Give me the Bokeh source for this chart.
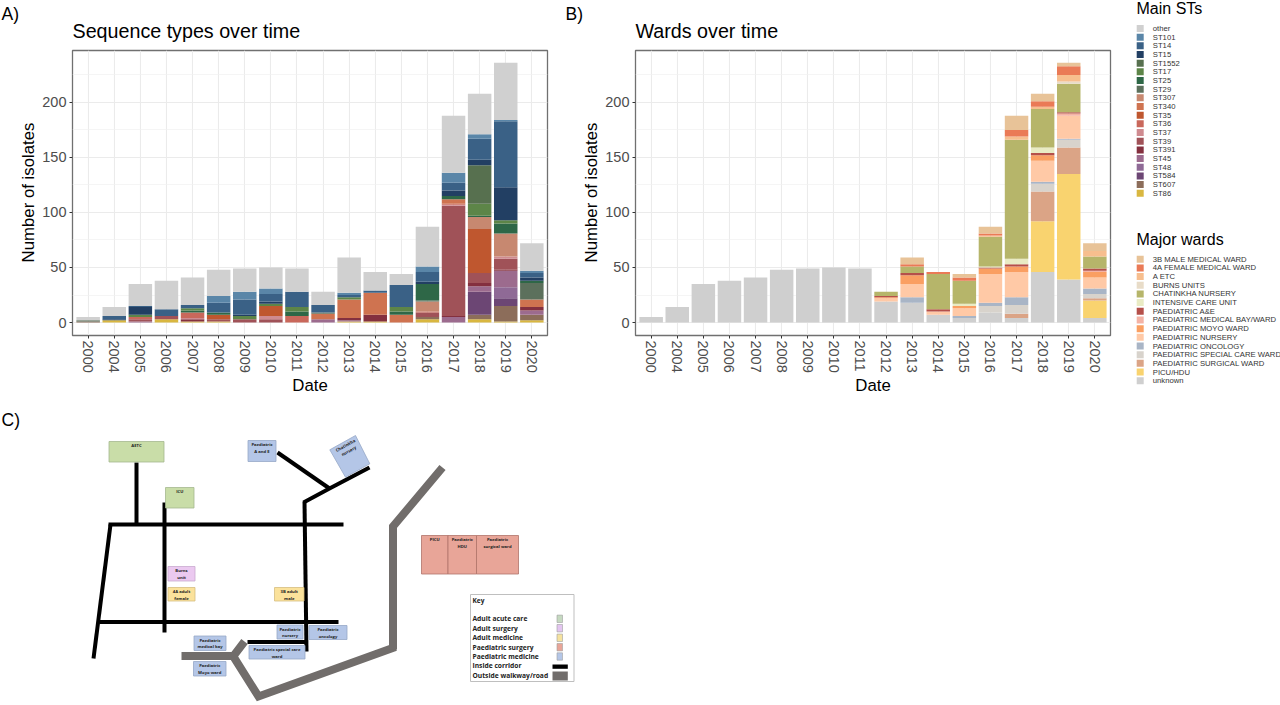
import math
from bokeh.embed import file_html
from bokeh.resources import INLINE
from bokeh.plotting import figure
from bokeh.layouts import column, row
from bokeh.models import ColumnDataSource, FactorRange, Range1d, FixedTicker

# ---------- data ----------
years = ["2000","2004","2005","2006","2007","2008","2009","2010","2011","2012","2013","2014","2015","2016","2017","2018","2019","2020"]

st_names = ["other","ST101","ST14","ST15","ST1552","ST17","ST25","ST29","ST307","ST340","ST35","ST36","ST37","ST39","ST391","ST45","ST48","ST584","ST607","ST86"]
st_colors = ["#D0D0D0","#5A86A8","#3A6186","#223F63","#57704F","#5D8548","#2E6747","#5C705C","#C78870","#CF7350","#BF572F","#C9685B","#CF8B90","#A05258","#84303F","#9C6B8E","#8F6A96","#6C4674","#8C6D5A","#D9B740"]
other  = [3,8,20,26,25,24,21,19,21,12,32,17,10,36,52,37,52,25]
st101  = [0,0,0,0,0,6,7,5,0,0,2,0,0,5,9,4,1,2]
st14   = [0,3,1,6,3,9,14,7,14,7,2,2,20,9,7,19,60,4]
st15   = [0,1,7,0,0,0,1,2,0,0,0,0,0,2,5,5,30,3]
st1552 = [0,0,0,0,0,0,0,0,0,0,0,0,0,0,0,35,0,0]
st17   = [0,0,2,0,2,0,3,2,4,0,2,0,4,0,0,11,3,0]
st25   = [0,0,0,0,2,2,0,0,4,0,0,0,3,15,3,1,9,2]
st29   = [1,0,0,0,0,0,0,0,0,1,0,0,0,1,0,0,0,15]
st307  = [0,0,0,0,0,0,0,0,0,0,0,0,0,9,0,11,21,0]
st340  = [0,0,0,0,0,0,0,0,0,5,17,20,7,0,4,0,0,7]
st35   = [0,0,0,0,0,4,0,9,0,0,0,0,0,0,0,40,0,0]
st36   = [0,0,2,0,5,0,0,0,6,0,0,0,0,1,1,0,0,0]
st37   = [0,0,0,0,1,0,0,3,0,0,0,0,0,0,1,0,2,0]
st39   = [0,0,2,3,0,2,3,3,0,0,0,0,0,4,100,9,10,0]
st391  = [0,0,0,0,2,0,0,0,0,0,2,6,0,0,1,3,1,3]
st45   = [0,0,1,0,0,0,0,0,0,3,1,0,0,0,5,5,15,4]
st48   = [0,0,0,0,0,0,0,0,0,0,0,0,0,0,0,0,10,0]
st584  = [0,0,0,0,0,0,0,0,0,0,0,0,0,0,0,21,7,0]
st607  = [1,0,0,0,0,0,0,0,0,0,0,0,0,2,0,4,14,5]
st86   = [0,2,0,3,1,1,0,0,0,0,1,1,0,3,0,3,1,2]
st_values = [other,st101,st14,st15,st1552,st17,st25,st29,st307,st340,st35,st36,st37,st39,st391,st45,st48,st584,st607,st86]

ward_names = ["3B MALE MEDICAL WARD","4A FEMALE MEDICAL WARD","A ETC","BURNS UNITS","CHATINKHA NURSERY","INTENSIVE CARE UNIT","PAEDIATRIC A&E","PAEDIATRIC MEDICAL BAY/WARD","PAEDIATRIC MOYO WARD","PAEDIATRIC NURSERY","PAEDIATRIC ONCOLOGY","PAEDIATRIC SPECIAL CARE WARD","PAEDIATRIC SURGICAL WARD","PICU/HDU","unknown"]
ward_colors = ["#E8C398","#EA7A56","#F7BE8E","#E8DCC8","#B6B56A","#E9EBC4","#B5504A","#F4B3A5","#FA9F62","#FFC9A6","#A9B5C6","#D8D3CC","#DBA486","#F9D36F","#CFCFCF"]
w3b     = [0,0,0,0,0,0,0,0,0,0,6,0,3,6,13,7,3,7]
w4a     = [0,0,0,0,0,0,0,0,0,0,2,2,3,2,6,5,8,0]
aetc    = [0,0,0,0,0,0,0,0,0,0,0,0,0,1,3,2,6,5]
burns   = [0,0,0,0,0,0,0,0,0,0,0,0,0,0,0,0,2,0]
chat    = [0,0,0,0,0,0,0,0,0,4,6,32,21,27,108,35,26,11]
icu     = [0,0,0,0,0,0,0,0,0,0,0,0,2,1,5,5,0,0]
pae     = [0,0,0,0,0,0,0,0,0,1,2,2,0,1,2,2,1,2]
medbay  = [0,0,0,0,0,0,0,0,0,0,0,0,0,0,0,0,2,1]
moyo    = [0,0,0,0,0,0,0,0,0,1,8,0,2,5,5,5,0,5]
nursery = [0,0,0,0,0,0,0,0,0,3,12,3,7,26,23,19,21,10]
onc     = [0,0,0,0,0,0,0,0,0,0,5,0,2,3,7,2,1,5]
special = [0,0,0,0,0,0,0,0,0,0,0,0,0,6,8,7,7,4]
surg    = [0,0,0,0,0,0,0,0,0,0,0,0,0,0,4,27,24,2]
picu    = [0,0,0,0,0,0,0,0,0,0,0,0,0,0,0,46,96,16]
unknown = [5,14,35,38,41,48,49,50,49,19,18,7,4,9,4,46,39,4]
ward_values = [w3b,w4a,aetc,burns,chat,icu,pae,medbay,moyo,nursery,onc,special,surg,picu,unknown]

y_ticks = [0,50,100,150,200]
y_minor = [25,75,125,175,225]
y_title = "Number of isolates"

# ---------- schematic of the hospital (panel C) ----------
corridors = [[(136,462),(136,524)],[(108,524),(343,524)],[(110,524),(93,658)],[(164,502),(164,632)],
             [(99,621.5),(338,621.5)],[(304,501),(306,651)],[(303,502),(329,488),(369,467)],[(277,452),(329,488)],[(247,641.5),(306,641.5)]]
walkways = [[(181,655.5),(233,655.5),(244,641)],[(231,653),(258,696),(395,646.5)],[(392.5,649),(392.5,526),(442,467)]]
box_labels = ["AETC","ICU","Paediatric\nA and E","Burns\nunit","4A adult\nfemale","3B adult\nmale","Paediatric\nnursery","Paediatric\noncology","Paediatric\nmedical bay","Paediatric special care\nward","Paediatric\nMoyo ward","PICU","Paediatric\nHDU","Paediatric\nsurgical ward"]
box_left   = [108.5,165,247.5,167.5,167.5,274,276.5,308.5,193.5,248.5,193,421,447.5,476]
box_right  = [163.5,193.5,275.5,194.5,194.5,303.5,302.5,346.5,225.5,304.5,225.5,447.5,476,518]
box_top    = [441,487,440,566,587,587,624.5,625,635.5,645,661,535,535,535]
box_bottom = [461.5,507.5,461,580.5,600.5,600.5,638.5,639,650,658.5,675.5,573.5,573.5,573.5]
box_fill = ["#C9DDA8","#C9DDA8","#B4C6E7","#EBC9F0","#FBE29B","#FBE29B","#B4C6E7","#B4C6E7","#B4C6E7","#B4C6E7","#B4C6E7","#E8A598","#E8A598","#E8A598"]
box_line = ["#A5B78F","#A5B78F","#97A8C6","#C9A9CF","#D5BE80","#D5BE80","#97A8C6","#97A8C6","#97A8C6","#97A8C6","#97A8C6","#B0736A","#B0736A","#B0736A"]
key_labels = ["Adult acute care","Adult surgery","Adult medicine","Paediatric surgery","Paediatric medicine","Inside corridor","Outside walkway/road"]
key_colors = ["#C5D9C0","#E3C5F0","#F5E29E","#E8A598","#B4C6E7"]

TXT = "#4D4D4D"
FONT = "Liberation Sans"


def stacked(title, names, colors, values, left, right, width):
    rev_names = names[::-1]
    data = {"year": years}
    for n, v in zip(names, values):
        data[n] = v
    p = figure(x_range=FactorRange(factors=years, range_padding=0.2/18), y_range=Range1d(-11.8, 247.2),
               width=width, height=400, output_backend="svg", toolbar_location=None,
               min_border_left=left, min_border_right=right, min_border_top=50, min_border_bottom=65)
    p.vbar_stack(rev_names, x="year", width=0.9, source=ColumnDataSource(data),
                 color=colors[::-1], line_color=None)
    p.title.text = title
    p.title.text_font = FONT
    p.title.text_font_size = "19.7px"
    p.title.text_font_style = "normal"
    p.title.text_color = "#000000"
    p.title.standoff = 18
    p.title.offset = 0
    p.outline_line_color = "#707070"
    p.outline_line_width = 1.3
    p.xgrid.grid_line_color = "#EBEBEB"
    p.xgrid.grid_line_width = 1.1
    p.ygrid.grid_line_color = "#EBEBEB"
    p.ygrid.grid_line_width = 1.1
    p.ygrid.minor_grid_line_color = "#F0F0F0"
    p.ygrid.minor_grid_line_width = 0.7
    p.yaxis.ticker = FixedTicker(ticks=y_ticks, minor_ticks=y_minor)
    p.ygrid.ticker = FixedTicker(ticks=y_ticks, minor_ticks=y_minor)
    for ax in (p.xaxis, p.yaxis):
        ax.axis_line_color = None
        ax.major_tick_line_color = "#333333"
        ax.major_tick_in = 0
        ax.major_tick_out = 3
        ax.minor_tick_line_color = None
        ax.major_label_text_font = FONT
        ax.major_label_text_font_size = "14.5px"
        ax.major_label_text_color = TXT
        ax.major_label_standoff = 2
        ax.axis_label_text_font = FONT
        ax.axis_label_text_font_size = "16.8px"
        ax.axis_label_text_font_style = "normal"
        ax.axis_label_text_color = "#000000"
    p.xaxis.major_label_orientation = "vertical"
    p.xaxis.axis_label = "Date"
    p.xaxis.axis_label_standoff = 0
    return p


def side_strip(tag, ytitle_x, width):
    s = figure(x_range=Range1d(0, width), y_range=Range1d(400, 0), width=width, height=400,
               output_backend="svg", toolbar_location=None, min_border=0, outline_line_color=None)
    s.axis.visible = False
    s.grid.visible = False
    s.text(x=[1], y=[13], text=[tag], text_font={"value": FONT}, text_font_size="17.5px",
           text_baseline="middle", text_color="#000000")
    s.text(x=[ytitle_x], y=[192], text=[y_title], angle=[math.pi / 2], text_font={"value": FONT},
           text_font_size="16.8px", text_align="center", text_baseline="middle", text_color="#000000")
    return s


pa = stacked("Sequence types over time", st_names, st_colors, st_values, 36, 17, 528)
pb = stacked("Wards over time", ward_names, ward_colors, ward_values, 35, 16, 526)

# ---------- legends ----------
lg = figure(x_range=Range1d(1126, 1280), y_range=Range1d(400, 0), width=154, height=400,
            output_backend="svg", toolbar_location=None, min_border=0, outline_line_color=None)
lg.axis.visible = False
lg.grid.visible = False


def legend_block(title, title_y, names, colors, first_y, step):
    ys = [first_y + i * step for i in range(len(names))]
    lg.text(x=[1136], y=[title_y], text=[title], text_font={"value": FONT}, text_font_size="16px",
            text_baseline="middle", text_color="#000000")
    lg.scatter(x=[1139.7] * len(names), y=ys, marker="square", size=7, color=colors, line_color=None)
    lg.text(x=[1152.3] * len(names), y=ys, text=names, text_font={"value": FONT}, text_font_size="7.7px",
            text_baseline="middle", text_color="#333333")


legend_block("Main STs", 7.5, st_names, st_colors, 28, 8.67)
legend_block("Major wards", 239, ward_names, ward_colors, 258.7, 8.68)

# ---------- panel C ----------
mp = figure(x_range=Range1d(0, 1280), y_range=Range1d(705, 400), width=1280, height=305,
            output_backend="svg", toolbar_location=None, min_border=0, outline_line_color=None)
mp.axis.visible = False
mp.grid.visible = False
mp.text(x=[1], y=[419], text=["C)"], text_font={"value": FONT}, text_font_size="17.5px",
        text_baseline="middle", text_color="#000000")
for path in walkways:
    mp.line([q[0] for q in path], [q[1] for q in path], line_color="#716D6B", line_width=8, line_join="miter")
for path in corridors:
    mp.line([q[0] for q in path], [q[1] for q in path], line_color="#000000", line_width=4, line_join="miter")
mp.quad(left=box_left, right=box_right, top=box_top, bottom=box_bottom, fill_color=box_fill, line_color=box_line, line_width=0.8)
mp.patch([329.3, 355, 369.3, 345], [449.3, 435, 463.3, 476.7], fill_color="#B4C6E7", line_color="#97A8C6", line_width=0.8)
MAPFONT = "Open Sans"
tx, ty, tt = [], [], []
for lab, a, b, t in zip(box_labels, box_left, box_right, box_top):
    for i, line in enumerate(lab.split("\n")):
        tx.append((a + b) / 2)
        ty.append(t + 4.3 + i * 6.2)
        tt.append(line)
mp.text(x=tx, y=ty, text=tt, text_font={"value": MAPFONT}, text_font_style="bold", text_font_size="4.2px",
        text_align="center", text_baseline="middle", text_color="#222222")
mp.text(x=[345, 348.3], y=[445, 450.5], text=["Chatinkha", "nursery"], angle=[0.5, 0.5], text_font={"value": MAPFONT},
        text_font_style="bold", text_font_size="4.2px", text_align="center", text_baseline="middle", text_color="#222222")
mp.quad(left=[470], right=[573.5], top=[594], bottom=[681], fill_color="#FFFFFF", line_color="#BFBFBF", line_width=1)
mp.text(x=[472], y=[600], text=["Key"], text_font={"value": MAPFONT}, text_font_style="bold", text_font_size="6.5px",
        text_baseline="middle", text_color="#222222")
key_ys = [618.3, 627.7, 637.3, 646.7, 656, 665.3, 675]
mp.text(x=[472] * 7, y=key_ys, text=key_labels, text_font={"value": MAPFONT}, text_font_style="bold", text_font_size="6.7px",
        text_baseline="middle", text_color="#222222")
mp.quad(left=[556.5] * 5, right=[562] * 5, top=[y - 3.7 for y in key_ys[:5]], bottom=[y + 3.7 for y in key_ys[:5]],
        fill_color=key_colors, line_color="#A0A0A0", line_width=0.6)
mp.quad(left=[552], right=[567.3], top=[664], bottom=[668.3], fill_color="#000000", line_color=None)
mp.quad(left=[552], right=[567.3], top=[671], bottom=[680], fill_color="#716D6B", line_color=None)

top_row = row(column(side_strip("A)", 28, 36), spacing=0), pa, column(side_strip("B)", 27, 36), spacing=0), pb, column(lg, spacing=0), spacing=0)
layout = column(top_row, mp, spacing=0)
open("out.html", "w").write(file_html(layout, INLINE))
